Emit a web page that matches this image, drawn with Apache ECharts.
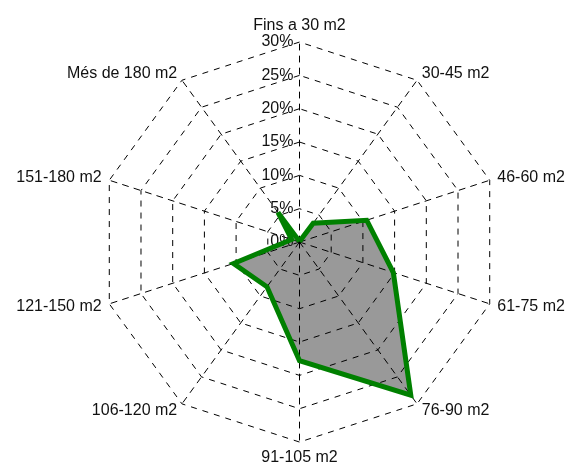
<!DOCTYPE html>
<html>
<head>
<meta charset="utf-8">
<script src="https://cdn.jsdelivr.net/npm/echarts@6/dist/echarts.min.js"></script>
<style>
  html, body { margin: 0; padding: 0; background: #fff; }
  #main { width: 572px; height: 470px; }
</style>
</head>
<body>
<div id="main"></div>
<script>
// categories (clockwise from the top)
var categories = ["Fins a 30 m2", "30-45 m2", "46-60 m2", "61-75 m2", "76-90 m2",
  "91-105 m2", "106-120 m2", "121-150 m2", "151-180 m2", "Més de 180 m2"];
// share of dwellings, %
var shares = [0.1, 3.5, 10.6, 14.8, 28.4, 17.8, 8.3, 10.4, 1.25, 5.5];
var maxValue = 30;
var step = 5;

var myChart = echarts.init(document.getElementById("main"));

// echarts lays the radar out counter-clockwise, so keep the first axis and reverse the rest
var order = [0];
for (var k = categories.length - 1; k > 0; k--) order.push(k);

var indicators = order.map(function (i) {
  var ind = { name: categories[i], min: 0, max: maxValue };
  // only the top axis carries the % labels
  if (i === 0) ind.axisLabel = { show: true };
  return ind;
});
var values = order.map(function (i) { return shares[i]; });

var option = {
  textStyle: { fontFamily: "Liberation Sans, Arial, sans-serif" },
  radar: {
    z: 3,
    center: ["52.36%", "51.5%"],
    radius: 200,
    startAngle: 90,
    shape: "polygon",
    splitNumber: maxValue / step,
    indicator: indicators,
    nameGap: 8,
    axisName: { color: "#111", fontSize: 16, fontFamily: "Liberation Sans, Arial, sans-serif" },
    axisLine: { lineStyle: { color: "#000", width: 1, type: [6, 6] } },
    splitLine: { lineStyle: { color: "#000", width: 1, type: [6, 6] } },
    splitArea: { show: false },
    axisTick: { show: false },
    axisLabel: {
      show: false,
      showMinLabel: true,
      showMaxLabel: true,
      color: "#111",
      fontSize: 16,
      margin: 6,
      formatter: function (v) { return v + "%"; }
    }
  },
  series: [
    // grey fill, under the grid
    {
      type: "radar",
      z: 1,
      symbol: "none",
      silent: true,
      lineStyle: { width: 0, opacity: 0 },
      areaStyle: { color: "#999999", opacity: 1 },
      data: [{ value: values }]
    },
    // green outline, over the grid
    {
      type: "radar",
      z: 4,
      symbol: "none",
      silent: true,
      lineStyle: { color: "#008000", width: 5, join: "miter" },
      data: [{ value: values }]
    }
  ]
};

myChart.setOption(option);
</script>
</body>
</html>
